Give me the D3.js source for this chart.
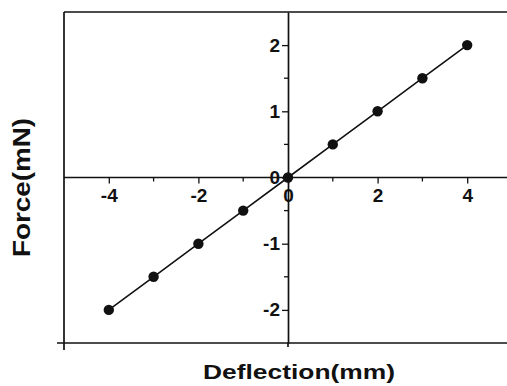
<!DOCTYPE html>
<html><head><meta charset="utf-8">
<script src="https://cdn.jsdelivr.net/npm/d3@7"></script>
<style>body{margin:0;background:#fff}svg{display:block}text{font-family:"Liberation Sans",Arial,sans-serif;font-weight:bold;fill:#111}</style>
</head><body><svg id="c" width="507" height="386"></svg>
<script>
const deflection = [-4, -3, -2, -1, 0, 1, 2, 3, 4];
const force = [-2, -1.5, -1, -0.5, 0, 0.5, 1, 1.5, 2];
const xTickValues = [-4, -2, 0, 2, 4];
const xMinorTicks = [-3, -1, 1, 3];
const yTickValues = [-2, -1, 0, 1, 2];
const yMinorTicks = [-1.5, -0.5, 0.5, 1.5];
const xTitle = "Deflection(mm)";
const yTitle = "Force(mN)";

const svg = d3.select("#c");
const x = d3.scaleLinear().domain([-5, 5]).range([64, 512]);
const y = d3.scaleLinear().domain([-2.5, 2.5]).range([343, 12]);
const col = "#111";
const fmt = d => String(d);

// frame
const fr = svg.append("g").attr("stroke", col).attr("stroke-width", 1.7).attr("fill", "none");
fr.append("line").attr("x1", x(-5)).attr("x2", x(-5)).attr("y1", y(2.5)).attr("y2", y(-2.5) + 7);
fr.append("line").attr("x1", x(-5)).attr("x2", 512).attr("y1", y(2.5)).attr("y2", y(2.5));
fr.append("line").attr("x1", x(-5) - 7).attr("x2", 512).attr("y1", y(-2.5)).attr("y2", y(-2.5));
fr.append("line").attr("x1", x(0)).attr("x2", x(0)).attr("y1", y(-2.5)).attr("y2", y(-2.5) + 4);

// x axis through zero
const xAxis = svg.append("g").attr("transform", `translate(0,${y(0)})`)
  .call(d3.axisBottom(x).tickValues(xTickValues).tickSize(6).tickSizeOuter(0).tickPadding(5).tickFormat(fmt));
xAxis.select(".domain").attr("d", `M${x(-5)},0H512`);
xAxis.append("g").selectAll("line").data(xMinorTicks).join("line")
  .attr("x1", d => x(d)).attr("x2", d => x(d)).attr("y1", 0).attr("y2", 4).attr("stroke", col).attr("stroke-width", 1.3);

// y axis through zero
const yAxis = svg.append("g").attr("transform", `translate(${x(0)},0)`)
  .call(d3.axisLeft(y).tickValues(yTickValues).tickSize(6).tickSizeOuter(0).tickPadding(2).tickFormat(fmt));
yAxis.append("g").selectAll("line").data(yMinorTicks).join("line")
  .attr("x1", 0).attr("x2", -4).attr("y1", d => y(d)).attr("y2", d => y(d)).attr("stroke", col).attr("stroke-width", 1.3);

svg.selectAll(".tick text").attr("font-size", 19).attr("font-family", "Liberation Sans, Arial, sans-serif")
  .attr("font-weight", "bold").attr("fill", col);
svg.selectAll(".domain").attr("stroke", col).attr("stroke-width", 1.7);
svg.selectAll(".tick line").attr("stroke", col).attr("stroke-width", 1.3);

// series
const pts = deflection.map((d, i) => [d, force[i]]);
svg.append("path").datum(pts).attr("fill", "none").attr("stroke", col).attr("stroke-width", 1.6)
  .attr("d", d3.line().x(d => x(d[0])).y(d => y(d[1])));
svg.append("g").selectAll("circle").data(pts).join("circle")
  .attr("cx", d => x(d[0])).attr("cy", d => y(d[1])).attr("r", 5.2).attr("fill", col);

// titles
svg.append("text").attr("x", 299).attr("y", 379).attr("text-anchor", "middle").attr("font-size", 21)
  .attr("textLength", 192).attr("lengthAdjust", "spacingAndGlyphs").text(xTitle);
svg.append("text").attr("transform", `translate(30,187.5) rotate(-90)`).attr("text-anchor", "middle").attr("font-size", 24)
  .attr("textLength", 139).attr("lengthAdjust", "spacingAndGlyphs").text(yTitle);
</script></body></html>
